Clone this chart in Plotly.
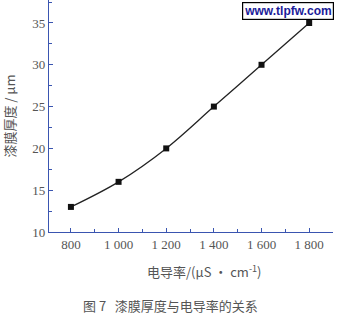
import plotly.graph_objects as go

conductivity = [800, 1000, 1200, 1400, 1600, 1800]
thickness = [13, 16, 20, 25, 30, 35]
x_tickvals = [800, 1000, 1200, 1400, 1600, 1800]
x_ticktext = ["800", "1 000", "1 200", "1 400", "1 600", "1 800"]
y_tickvals = [10, 15, 20, 25, 30, 35]

axis_color = "#3a55b0"
text_color = "#555555"
serif = "Liberation Serif, Times New Roman, serif"
cjk = "Noto Sans CJK SC, Liberation Serif, serif"

fig = go.Figure()
fig.add_trace(go.Scatter(
    x=conductivity, y=thickness, mode="lines+markers",
    line=dict(color="#222222", width=1.3, shape="spline"),
    marker=dict(symbol="square", size=6, color="#111111"),
    showlegend=False, cliponaxis=False,
))

fig.update_layout(
    width=337, height=314,
    margin=dict(l=49, r=4, t=0, b=82),
    paper_bgcolor="white", plot_bgcolor="white",
    xaxis=dict(
        range=[708, 1900], tickvals=x_tickvals, ticktext=x_ticktext,
        showgrid=False, zeroline=False, showline=True, linecolor=axis_color, linewidth=1.2,
        ticks="inside", ticklen=4, tickcolor=axis_color,
        minor=dict(dtick=100, tick0=700, ticks="inside", ticklen=3, tickcolor=axis_color),
        tickfont=dict(family=serif, size=13, color=text_color),
    ),
    yaxis=dict(
        range=[10, 37.75], tickvals=y_tickvals,
        showgrid=False, zeroline=False, showline=True, linecolor=axis_color, linewidth=1.2,
        ticks="inside", ticklen=4, tickcolor=axis_color,
        minor=dict(dtick=2.5, tick0=10, ticks="inside", ticklen=3, tickcolor=axis_color),
        tickfont=dict(family=serif, size=13, color=text_color),
        title=dict(text="漆膜厚度 / μm", font=dict(family=cjk, size=13, color=text_color), standoff=14),
    ),
    annotations=[
        dict(text="电导率/(μS · cm<sup>-1</sup>)", xref="paper", yref="paper",
             x=(204 - 49) / 284, y=-(271 - 232) / 232, xanchor="center", yanchor="middle",
             showarrow=False, font=dict(family=cjk, size=13, color=text_color)),
        dict(text="图 7   漆膜厚度与电导率的关系", xref="paper", yref="paper",
             x=(170 - 49) / 284, y=-(305 - 232) / 232, xanchor="center", yanchor="middle",
             showarrow=False, font=dict(family=cjk, size=13, color=text_color)),
        dict(text="<b>www.tlpfw.com</b>", xref="paper", yref="paper",
             x=(288 - 49) / 284, y=(232 - 11.5) / 232, xanchor="center", yanchor="middle",
             showarrow=False, font=dict(family="Liberation Sans, Arial, sans-serif", size=12, color="#1a1a99"),
             bordercolor="black", borderwidth=1.2, borderpad=1, bgcolor="white"),
    ],
)

fig.write_html("out.html")
